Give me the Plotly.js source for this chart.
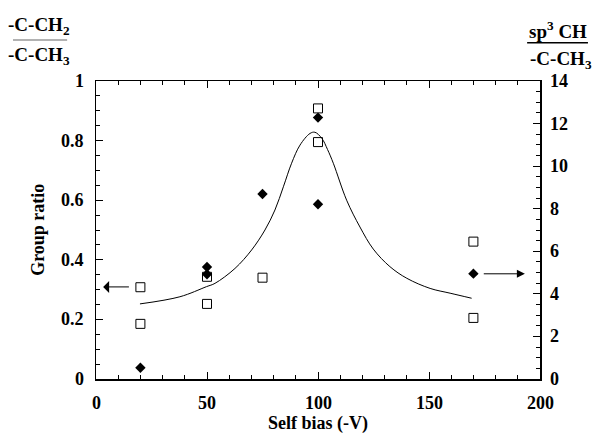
<!DOCTYPE html>
<html>
<head>
<meta charset="utf-8">
<script src="https://cdn.plot.ly/plotly-3.0.1.min.js"></script>
<style>html,body{margin:0;padding:0;background:#fff;}#chart{width:595px;height:433px;}</style>
</head>
<body>
<div id="chart"></div>
<script>
// Group ratio (-C-CH2 / -C-CH3), left axis
const squareX = [20, 20, 50, 50, 75, 100, 100, 170, 170];
const squareY = [0.308, 0.185, 0.343, 0.252, 0.340, 0.908, 0.795, 0.461, 0.205];
// sp3 CH / -C-CH3, right axis
const diamondX = [20, 50, 50, 75, 100, 100, 170];
const diamondY = [0.53, 5.26, 4.92, 8.69, 12.28, 8.21, 4.95];
// fitted curve, left axis
const curveX = [19.8, 37.8, 49.8, 53.6, 62.6, 70.1, 76.1, 80.6, 84.4, 88.1, 91.9, 96.4, 98.6, 101.7, 104.3, 106.9, 112.9, 118.9, 124.9, 132.4, 140.0, 150.5, 159.5, 169.2];
const curveY = [0.252, 0.276, 0.310, 0.321, 0.371, 0.433, 0.500, 0.567, 0.645, 0.724, 0.785, 0.824, 0.828, 0.808, 0.770, 0.724, 0.600, 0.510, 0.436, 0.377, 0.338, 0.304, 0.288, 0.271];

const xTicks = [0, 50, 100, 150, 200];
const yTicks = [0, 0.2, 0.4, 0.6, 0.8, 1];
const y2Ticks = [0, 2, 4, 6, 8, 10, 12, 14];

const F = 'Liberation Serif';
const lblFont = {family: F, size: 18, color: '#000'};

const traces = [
  {x: curveX, y: curveY, mode: 'lines', line: {color: '#000', width: 1, shape: 'spline', smoothing: 1}, hoverinfo: 'none', yaxis: 'y'},
  {x: squareX, y: squareY, mode: 'markers', marker: {symbol: 'square-open', size: 9, color: '#000', line: {width: 1, color: '#000'}}, yaxis: 'y'},
  {x: diamondX, y: diamondY, mode: 'markers', marker: {symbol: 'diamond', size: 8, color: '#000'}, yaxis: 'y2'}
];

const annotations = [];
// tick labels built from the tick arrays
xTicks.forEach(v => annotations.push({xref: 'x', yref: 'paper', x: v, y: -0.082, xanchor: 'center', yanchor: 'middle', text: '<b>' + v + '</b>', showarrow: false, font: lblFont}));
yTicks.forEach(v => annotations.push({xref: 'paper', yref: 'y', x: -0.022, y: v, xanchor: 'right', yanchor: 'middle', text: '<b>' + v + '</b>', showarrow: false, font: lblFont}));
y2Ticks.forEach(v => annotations.push({xref: 'paper', yref: 'y2', x: 1.018, y: v, xanchor: 'left', yanchor: 'middle', text: '<b>' + v + '</b>', showarrow: false, font: lblFont}));
// axis titles
annotations.push({xref: 'paper', yref: 'paper', x: 0.5, y: -0.148, xanchor: 'center', yanchor: 'middle', text: '<b>Self bias (-V)</b>', showarrow: false, font: lblFont});
annotations.push({xref: 'paper', yref: 'paper', x: -0.131, y: 0.5, xanchor: 'center', yanchor: 'middle', textangle: -90, text: '<b>Group ratio</b>', showarrow: false, font: lblFont});
// arrows
annotations.push({x: 3.2, y: 0.309, ax: 15.5, ay: 0.309, axref: 'x', ayref: 'y', xref: 'x', yref: 'y', text: '', showarrow: true, arrowhead: 1, arrowsize: 2, arrowwidth: 1, arrowcolor: '#000'});
annotations.push({x: 193.2, y: 0.353, ax: 174, ay: 0.353, axref: 'x', ayref: 'y', xref: 'x', yref: 'y', text: '', showarrow: true, arrowhead: 2, arrowsize: 1.6, arrowwidth: 1, arrowcolor: '#000'});
// ratio labels
annotations.push({xref: 'paper', yref: 'paper', x: -0.202, y: 1.183, xanchor: 'left', yanchor: 'middle', text: '<b>-C-CH<sub>2</sub></b>', showarrow: false, font: {family: F, size: 19, color: '#000'}});
annotations.push({xref: 'paper', yref: 'paper', x: -0.202, y: 1.083, xanchor: 'left', yanchor: 'middle', text: '<b>-C-CH<sub>3</sub></b>', showarrow: false, font: {family: F, size: 19, color: '#000'}});
annotations.push({xref: 'paper', yref: 'paper', x: 1.11, y: 1.17, xanchor: 'right', yanchor: 'middle', text: '<b>sp<sup>3</sup> CH</b>', showarrow: false, font: {family: F, size: 19, color: '#000'}});
annotations.push({xref: 'paper', yref: 'paper', x: 1.122, y: 1.07, xanchor: 'right', yanchor: 'middle', text: '<b>-C-CH<sub>3</sub></b>', showarrow: false, font: {family: F, size: 19, color: '#000'}});

const axCommon = {
  ticks: 'inside', ticklen: 7, tickwidth: 1, tickcolor: '#000',
  showline: true, linecolor: '#000', linewidth: 1.5,
  showgrid: false, zeroline: false, showticklabels: false
};

const layout = {
  width: 595, height: 433,
  margin: {l: 96, r: 55, t: 81, b: 54},
  paper_bgcolor: '#fff', plot_bgcolor: '#fff',
  showlegend: false,
  font: {family: F, color: '#000', size: 18},
  xaxis: Object.assign({}, axCommon, {
    range: [0, 200], tickvals: xTicks, mirror: 'ticks',
    minor: {dtick: 10, ticks: 'inside', ticklen: 4, tickcolor: '#000', showgrid: false}
  }),
  yaxis: Object.assign({}, axCommon, {
    range: [0, 1], tickvals: yTicks, mirror: false,
    minor: {dtick: 0.05, ticks: 'inside', ticklen: 4, tickcolor: '#000', showgrid: false}
  }),
  yaxis2: Object.assign({}, axCommon, {
    range: [0, 14], tickvals: y2Ticks, overlaying: 'y', side: 'right',
    minor: {dtick: 0.5, ticks: 'inside', ticklen: 4, tickcolor: '#000', showgrid: false}
  }),
  annotations: annotations,
  shapes: [
    {type: 'line', xref: 'paper', yref: 'paper', x0: -0.187, x1: -0.065, y0: 1.138, y1: 1.138, line: {color: '#999', width: 1.5}},
    {type: 'line', xref: 'paper', yref: 'paper', x0: 0.971, x1: 1.108, y0: 1.128, y1: 1.128, line: {color: '#000', width: 1.5}}
  ]
};

Plotly.newPlot('chart', traces, layout, {displayModeBar: false, staticPlot: true});
</script>
</body>
</html>
